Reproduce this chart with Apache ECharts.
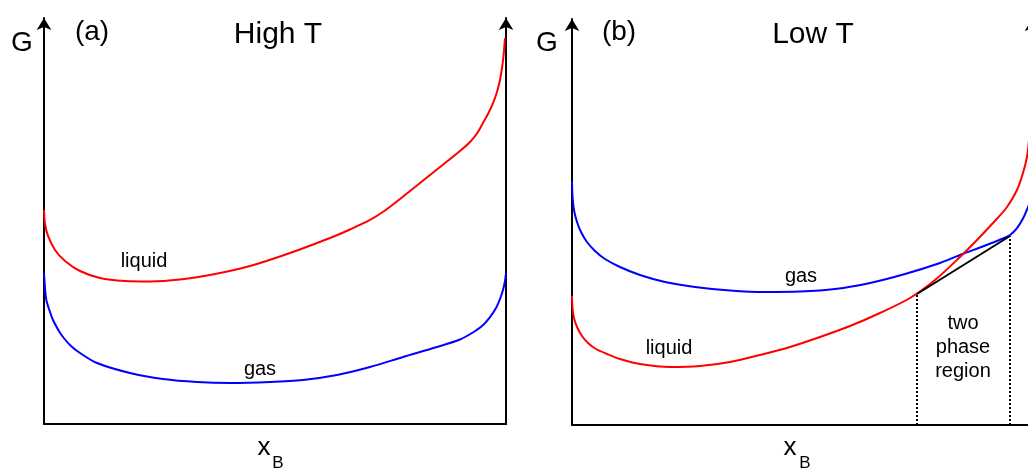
<!DOCTYPE html>
<html>
<head>
<meta charset="utf-8">
<script src="https://cdn.jsdelivr.net/npm/echarts@6/dist/echarts.min.js"></script>
<style>
  html, body { margin: 0; padding: 0; background: #fff; }
  #chart { width: 1028px; height: 470px; }
</style>
</head>
<body>
<div id="chart"></div>
<script>
// (a) High T : mole fraction x_B and Gibbs energy G (arbitrary units, 0-100)
const highLiquidX = [0, 0.0022, 0.0087, 0.0238, 0.0455, 0.0779, 0.1212, 0.1753, 0.2294, 0.2944, 0.3701, 0.4459, 0.5325, 0.6190, 0.6623, 0.7056, 0.7381, 0.7706, 0.8355, 0.9004, 0.9221, 0.9372, 0.9502, 0.9610, 0.9719, 0.9805, 0.9870, 0.9913, 0.9946, 0.9978];
const highLiquidG = [52.71, 49.26, 46.31, 42.86, 40.15, 37.68, 35.96, 35.22, 35.10, 35.59, 36.95, 38.92, 42.12, 45.81, 47.91, 50.25, 52.59, 55.42, 61.33, 67.24, 69.46, 71.55, 74.14, 76.35, 79.06, 81.77, 84.73, 87.68, 90.64, 95.07];
const highGasX = [0, 0.002, 0.005, 0.0130, 0.0195, 0.0303, 0.0411, 0.0584, 0.0779, 0.1147, 0.1861, 0.2576, 0.3312, 0.4026, 0.4892, 0.5606, 0.6342, 0.7056, 0.7771, 0.8506, 0.9004, 0.9264, 0.9481, 0.9654, 0.9784, 0.9870, 0.9935, 0.9978, 1];
const highGasG = [37.19, 33.74, 30.54, 27.59, 25.62, 23.28, 21.43, 19.21, 17.49, 15.02, 12.56, 11.08, 10.34, 10.10, 10.34, 10.84, 12.07, 14.04, 16.50, 18.97, 20.81, 22.41, 24.14, 26.35, 28.57, 30.79, 33.00, 35.22, 37.19];

// (b) Low T
const lowLiquidX = [0, 0.0011, 0.0043, 0.0109, 0.0217, 0.0348, 0.0522, 0.0761, 0.1043, 0.1478, 0.2130, 0.2783, 0.3435, 0.4087, 0.4739, 0.5391, 0.6043, 0.6696, 0.7348, 0.7891, 0.8435, 0.8804, 0.9152, 0.9457, 0.9674, 0.9804, 0.9891, 0.9935, 1];
const lowLiquidG = [31.77, 28.82, 26.35, 24.14, 21.92, 20.20, 18.72, 17.49, 16.26, 15.02, 14.29, 14.53, 15.52, 17.24, 19.21, 21.67, 24.38, 27.59, 31.28, 35.71, 41.38, 45.57, 49.75, 53.69, 57.88, 62.07, 66.01, 70.20, 78.82];
const lowGasX = [0, 0.0011, 0.0043, 0.0109, 0.0196, 0.0326, 0.0500, 0.0717, 0.1043, 0.1478, 0.2022, 0.2674, 0.3435, 0.4196, 0.4957, 0.5717, 0.6478, 0.7239, 0.8000, 0.8543, 0.8870, 0.9152, 0.9370, 0.9522, 0.9674, 0.9804, 0.9913, 0.9957, 1];
const lowGasG = [60.10, 56.40, 52.96, 50.00, 47.54, 45.07, 42.86, 40.89, 38.92, 36.95, 35.22, 33.99, 33.13, 32.76, 32.88, 33.50, 34.98, 37.19, 39.90, 42.36, 43.72, 44.95, 45.94, 46.80, 48.52, 50.86, 53.69, 55.17, 57.14];

// common tangent and the limits of the two phase region
const tangentX = [0.75, 0.9522];
const tangentG = [32.27, 46.55];

const zip = (xs, ys) => xs.map((x, i) => [x, ys[i]]);

const FONT = '"Liberation Sans", Arial, Helvetica, sans-serif';
const RED = '#ff0000';
const BLUE = '#0000ff';

const xAxisBase = (gridIndex) => ({
  type: 'value', gridIndex, min: 0, max: 1,
  axisLine: { onZero: false, lineStyle: { color: '#000', width: 2 } },
  axisTick: { show: false }, axisLabel: { show: false }, splitLine: { show: false }
});
const yAxisBase = (gridIndex, position) => ({
  type: 'value', gridIndex, position, min: 0, max: 100,
  axisLine: {
    show: true, onZero: false,
    symbol: ['none', 'arrow'], symbolSize: [11, 12],
    lineStyle: { color: '#000', width: 2 }
  },
  axisTick: { show: false }, axisLabel: { show: false }, splitLine: { show: false }
});

const curve = (idx, data, color) => ({
  type: 'line', xAxisIndex: idx, yAxisIndex: idx * 2,
  data, smooth: 0.3, showSymbol: false, silent: true,
  lineStyle: { color, width: 2 }
});

const dotted = (x, g) => ({
  type: 'line', xAxisIndex: 1, yAxisIndex: 2, silent: true, showSymbol: false,
  data: [[x, 0], [x, g]],
  lineStyle: { color: '#000', width: 2, type: [2, 2] }
});

const label = (text, x, y, size, extra) => ({
  type: 'text', x, y, silent: true,
  style: Object.assign({
    text, font: size + 'px ' + FONT, fill: '#000',
    align: 'center', verticalAlign: 'middle',
    textAlign: 'center', textVerticalAlign: 'middle'
  }, extra || {})
});

const chart = echarts.init(document.getElementById('chart'));
chart.setOption({
  backgroundColor: '#fff',
  animation: false,
  grid: [
    { left: 44, right: 522, top: 18, bottom: 46, outerBoundsMode: 'none', containLabel: false },
    { left: 572, right: -4, top: 19, bottom: 45, outerBoundsMode: 'none', containLabel: false }
  ],
  xAxis: [xAxisBase(0), xAxisBase(1)],
  yAxis: [yAxisBase(0, 'left'), yAxisBase(0, 'right'), yAxisBase(1, 'left'), yAxisBase(1, 'right')],
  series: [
    curve(0, zip(highLiquidX, highLiquidG), RED),
    curve(0, zip(highGasX, highGasG), BLUE),
    curve(1, zip(lowGasX, lowGasG), BLUE),
    curve(1, zip(lowLiquidX, lowLiquidG), RED),
    dotted(tangentX[0], tangentG[0]),
    dotted(tangentX[1], tangentG[1]),
    {
      type: 'line', xAxisIndex: 1, yAxisIndex: 2, silent: true, showSymbol: false,
      data: zip(tangentX, tangentG),
      lineStyle: { color: '#000', width: 2 }
    }
  ],
  graphic: [
    label('G', 22, 43, 28),
    label('(a)', 92, 32, 28),
    label('High T', 278, 35, 30),
    label('liquid', 144, 261, 20),
    label('gas', 260, 369, 20),
    label('x', 264, 448, 26),
    label('B', 278, 463, 17),

    label('G', 547, 43, 28),
    label('(b)', 619, 32, 28),
    label('Low T', 813, 35, 30),
    label('gas', 801, 276, 20),
    label('liquid', 669, 348, 20),
    label('two\nphase\nregion', 963, 347, 20, { lineHeight: 24 }),
    label('x', 790, 448, 26),
    label('B', 805, 463, 17)
  ]
});
</script>
</body>
</html>
